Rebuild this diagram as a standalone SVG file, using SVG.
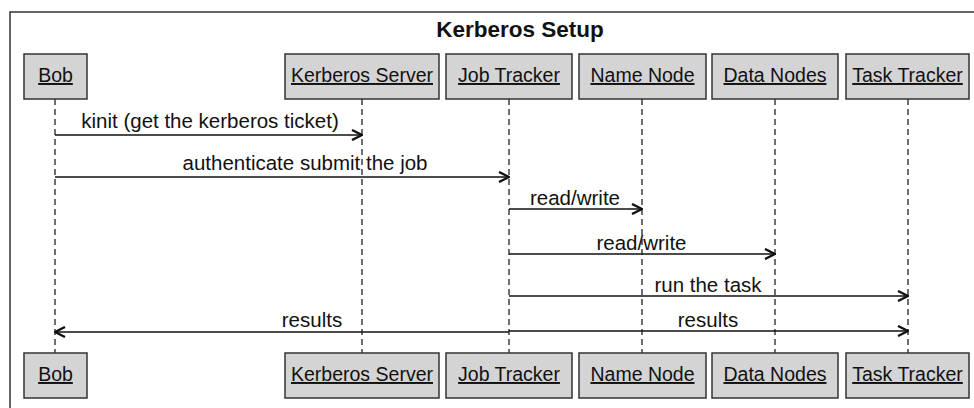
<svg xmlns="http://www.w3.org/2000/svg" width="974" height="408" viewBox="0 0 974 408">
<defs>
<marker id="arr" viewBox="0 0 12 12" refX="11" refY="6" markerWidth="12" markerHeight="12" markerUnits="userSpaceOnUse" orient="auto">
<path d="M1,1 L11,6 L1,11" fill="none" stroke="#111" stroke-width="2.4"/>
</marker>
<style>
.frame{fill:#fff;stroke:#333;stroke-width:1.5}
.title{font-family:"Liberation Sans",Arial,sans-serif;font-weight:bold;font-size:22.5px;fill:#111;text-anchor:middle}
.box{fill:#d4d4d4;stroke:#333;stroke-width:1.5}
.lbl{font-family:"Liberation Sans",Arial,sans-serif;font-size:19.5px;fill:#111;text-anchor:middle;text-decoration:underline}
.life{stroke:#222;stroke-width:1.3;stroke-dasharray:6,4;fill:none}
.msg{stroke:#111;stroke-width:1.3;fill:none;marker-end:url(#arr)}
.mtxt{font-family:"Liberation Sans",Arial,sans-serif;font-size:20.5px;fill:#111;text-anchor:middle}
</style>
</defs>
<rect class="frame" x="10" y="12" width="980" height="420"/>
<text class="title" x="520" y="37">Kerberos Setup</text>
<g id="lifelines">
<line class="life" x1="55" y1="99" x2="55" y2="353"/>
<line class="life" x1="362" y1="99" x2="362" y2="353"/>
<line class="life" x1="509" y1="99" x2="509" y2="353"/>
<line class="life" x1="642" y1="99" x2="642" y2="353"/>
<line class="life" x1="775" y1="99" x2="775" y2="353"/>
<line class="life" x1="908" y1="99" x2="908" y2="353"/>
</g>
<g id="bob-top"><rect class="box" x="24" y="54" width="63" height="45"/><text class="lbl" x="55.5" y="82">Bob</text></g>
<g id="kerberos-top"><rect class="box" x="285" y="54" width="154" height="45"/><text class="lbl" x="362" y="82">Kerberos Server</text></g>
<g id="jobtracker-top"><rect class="box" x="446" y="54" width="126" height="45"/><text class="lbl" x="509" y="82">Job Tracker</text></g>
<g id="namenode-top"><rect class="box" x="579" y="54" width="127" height="45"/><text class="lbl" x="642.5" y="82">Name Node</text></g>
<g id="datanodes-top"><rect class="box" x="712" y="54" width="126" height="45"/><text class="lbl" x="775" y="82">Data Nodes</text></g>
<g id="tasktracker-top"><rect class="box" x="846" y="54" width="123" height="45"/><text class="lbl" x="907.5" y="82">Task Tracker</text></g>
<g id="bob-bottom"><rect class="box" x="24" y="353" width="63" height="45"/><text class="lbl" x="55.5" y="381">Bob</text></g>
<g id="kerberos-bottom"><rect class="box" x="285" y="353" width="154" height="45"/><text class="lbl" x="362" y="381">Kerberos Server</text></g>
<g id="jobtracker-bottom"><rect class="box" x="446" y="353" width="126" height="45"/><text class="lbl" x="509" y="381">Job Tracker</text></g>
<g id="namenode-bottom"><rect class="box" x="579" y="353" width="127" height="45"/><text class="lbl" x="642.5" y="381">Name Node</text></g>
<g id="datanodes-bottom"><rect class="box" x="712" y="353" width="126" height="45"/><text class="lbl" x="775" y="381">Data Nodes</text></g>
<g id="tasktracker-bottom"><rect class="box" x="846" y="353" width="123" height="45"/><text class="lbl" x="907.5" y="381">Task Tracker</text></g>
<g id="connectors">
<line class="msg" x1="55" y1="135" x2="362" y2="135"/>
<text class="mtxt" x="210" y="128">kinit (get the kerberos ticket)</text>
<line class="msg" x1="55" y1="177" x2="509" y2="177"/>
<text class="mtxt" x="305" y="170">authenticate submit the job</text>
<line class="msg" x1="509" y1="209" x2="642" y2="209"/>
<text class="mtxt" x="575" y="205">read/write</text>
<line class="msg" x1="509" y1="254" x2="775" y2="254"/>
<text class="mtxt" x="641.5" y="250">read/write</text>
<line class="msg" x1="509" y1="296" x2="908" y2="296"/>
<text class="mtxt" x="708" y="292">run the task</text>
<line class="msg" x1="509" y1="331" x2="908" y2="331"/>
<text class="mtxt" x="708" y="327">results</text>
<line class="msg" x1="509" y1="332" x2="55" y2="332"/>
<text class="mtxt" x="312" y="327">results</text>
</g>
</svg>
